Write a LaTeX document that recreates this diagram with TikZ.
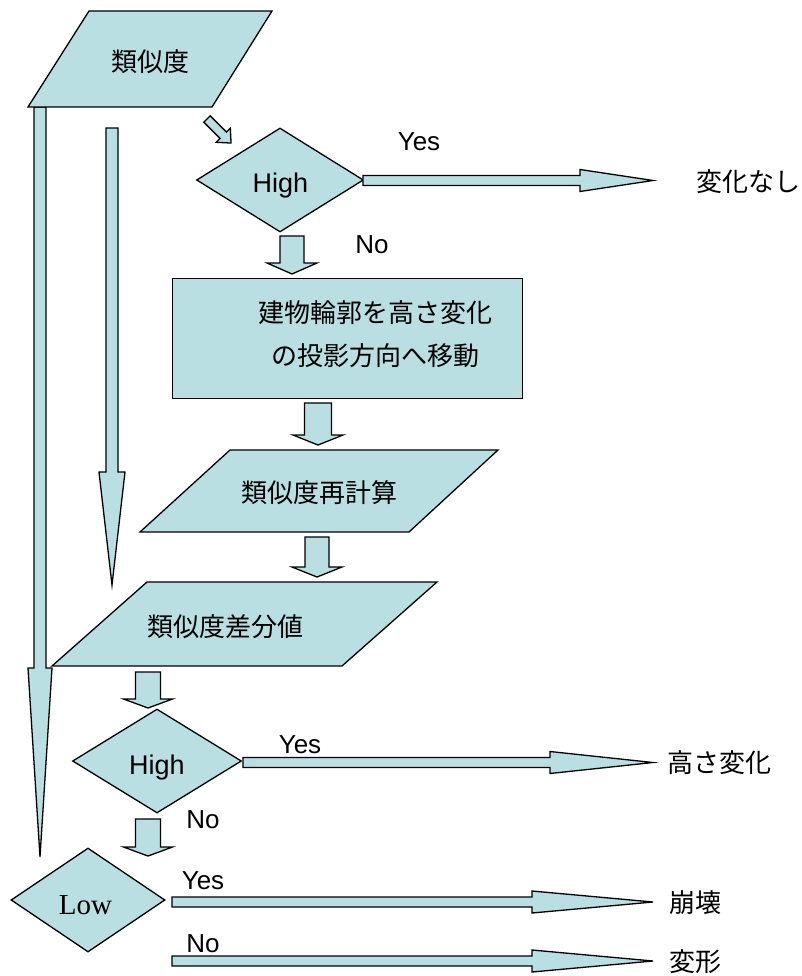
\documentclass[tikz,border=0pt]{standalone}
\usepackage{fontspec}
\setmainfont{Liberation Sans}
\newfontfamily\jpfont{Noto Sans CJK JP}
\newfontfamily\serfont{Liberation Serif}
\usetikzlibrary{shapes.geometric}
\definecolor{boxfill}{RGB}{185,223,226}
\tikzset{
  shp/.style={draw=black, fill=boxfill, line width=1.3pt, line join=miter},
  jtext/.style={font=\jpfont\fontsize{26}{43}\selectfont, inner sep=0pt},
  ltext/.style={font=\fontsize{26}{30}\selectfont, inner sep=0pt},
  dia/.style={shp, diamond, inner sep=0pt},
}
% right-pointing block arrow: start, total length, head length, shaft half, head half
\newcommand\rarrow[5]{%
  \draw[shp] (#1) ++(0,-#4) -- ++({#2-#3},0) -- ++(0,{-(#5-#4)}) -- ++(#3,#5)
    -- ++(-#3,#5) -- ++(0,{-(#5-#4)}) -- ++({-(#2-#3)},0) -- cycle;}
% down-pointing block arrow
\newcommand\darrow[5]{%
  \draw[shp] (#1) ++(-#4,0) -- ++(0,{#2-#3}) -- ++({-(#5-#4)},0) -- ++(#5,#3)
    -- ++(#5,-#3) -- ++({-(#5-#4)},0) -- ++(0,{-(#2-#3)}) -- cycle;}
\begin{document}
\begin{tikzpicture}[x=1pt,y=-1pt]
\useasboundingbox (0,0) rectangle (801,976);

% long bypass arrows (drawn first, under shapes)
\coordinate (a1) at (40,107);
\darrow{a1}{750}{189}{6}{12}
\coordinate (a2) at (112,128);
\darrow{a2}{457}{113}{6}{13}

% input parallelogram
\draw[shp] (89,11) -- (272,11) -- (212,107) -- (28,107) -- cycle;
\node[jtext] (p1) at (150,62) {類似度};

% diagonal arrow
\begin{scope}[shift={(207,119)}, rotate=-45]
  \coordinate (a3) at (0,0);
  \rarrow{a3}{34}{11}{4.5}{10}
\end{scope}

% decision 1
\node[dia, minimum width=167pt, minimum height=104pt] (d1) at (280,180) {};
\node[ltext, font=\fontsize{27}{30}\selectfont, anchor=base] (d1t) at (280.5,192.5) {High};
\coordinate (d1e) at (363,180.5);
\rarrow{d1e}{290}{73}{5}{11}
\node[ltext, anchor=base] (y1) at (419,151) {Yes};
\node[jtext] (o1) at (748,182) {変化なし};
\coordinate (d1s) at (292,236);
\darrow{d1s}{38}{11}{12}{25}
\node[ltext, anchor=base] (n1) at (372,254) {No};

% process box
\node[shp, minimum width=350pt, minimum height=120pt, anchor=north west, inner sep=0pt] (r) at (172,278) {};
\node[jtext, align=center] (rt) at (375,334.5) {建物輪郭を高さ変化\\の投影方向へ移動};
\coordinate (rs) at (318,403);
\darrow{rs}{42}{10}{13.5}{25}

% recompute parallelogram
\draw[shp] (230,450) -- (498,450) -- (409,532) -- (140,532) -- cycle;
\node[jtext] (p2) at (319,493) {類似度再計算};
\coordinate (p2s) at (317,537);
\darrow{p2s}{40}{10}{12}{25}

% difference parallelogram
\draw[shp] (147,582) -- (437,582) -- (342,666) -- (52,666) -- cycle;
\node[jtext] (p3) at (225,627) {類似度差分値};
\coordinate (p3s) at (148,672);
\darrow{p3s}{36}{9}{12.5}{24.5}

% decision 2
\node[dia, minimum width=169pt, minimum height=104pt] (d2) at (157,761) {};
\node[ltext, font=\fontsize{27}{30}\selectfont, anchor=base] (d2t) at (157,774) {High};
\coordinate (d2e) at (243,762.5);
\rarrow{d2e}{410}{103}{5}{11}
\node[ltext, anchor=base] (y2) at (300,753) {Yes};
\node[jtext] (o2) at (719,763) {高さ変化};
\coordinate (d2s) at (148,819);
\darrow{d2s}{37}{9}{12.5}{24.5}
\node[ltext, anchor=base] (n2) at (203,828) {No};

% decision 3
\node[dia, minimum width=154pt, minimum height=104pt] (d3) at (88,900) {};
\node[inner sep=0pt, font=\serfont\fontsize{29}{32}\selectfont, anchor=base] (d3t) at (85.5,914) {Low};
\coordinate (d3e) at (172,902);
\rarrow{d3e}{481}{121}{5}{11}
\node[ltext, anchor=base] (y3) at (203,889) {Yes};
\node[jtext] (o3) at (695,903) {崩壊};
\coordinate (d3f) at (172,961);
\rarrow{d3f}{481}{121}{5}{11}
\node[ltext, anchor=base] (n3) at (203,952) {No};
\node[jtext] (o4) at (695,962) {変形};
\end{tikzpicture}
\end{document}
